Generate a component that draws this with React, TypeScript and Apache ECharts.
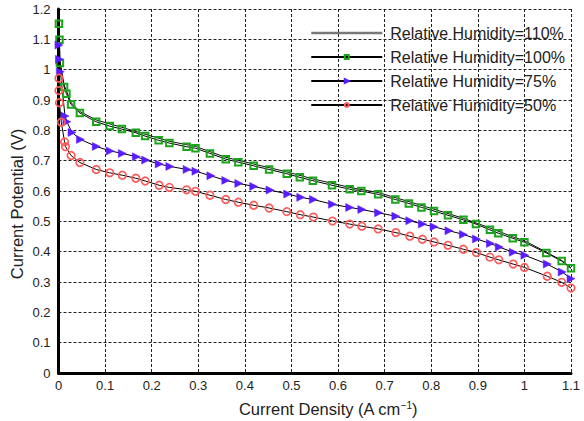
import React, { useEffect, useRef } from "react";
import * as echarts from "echarts";

const xTicks = { min: 0, max: 1.1, interval: 0.1 };
const yTicks = { min: 0, max: 1.2, interval: 0.1 };

const xTitle = "Current Density (A cm{sup|−1})";
const yTitle = "Current Potential (V)";

const legendNames = [
  "Relative Humidity=110%",
  "Relative Humidity=100%",
  "Relative Humidity=75%",
  "Relative Humidity=50%",
];

const rh110: number[][] = [
  [0.001, 1.16], [0.003, 1.03], [0.012, 0.95], [0.027, 0.891], [0.046, 0.862],
  [0.081, 0.834], [0.136, 0.81], [0.186, 0.787], [0.238, 0.764], [0.294, 0.747],
  [0.359, 0.711], [0.419, 0.689], [0.49, 0.663], [0.546, 0.64], [0.625, 0.612],
  [0.686, 0.595], [0.752, 0.565], [0.806, 0.54], [0.869, 0.51], [0.926, 0.478],
  [0.975, 0.449], [1.0, 0.436], [1.047, 0.399], [1.08, 0.371], [1.1, 0.347],
];

const rh100: number[][] = [
  [0.001, 1.151], [0.002, 1.099], [0.003, 1.022], [0.012, 0.943], [0.017, 0.921],
  [0.027, 0.885], [0.046, 0.857], [0.081, 0.828], [0.11, 0.814], [0.136, 0.804],
  [0.166, 0.792], [0.186, 0.781], [0.215, 0.767], [0.238, 0.758], [0.275, 0.746],
  [0.294, 0.741], [0.325, 0.724], [0.359, 0.705], [0.386, 0.695], [0.419, 0.683],
  [0.452, 0.671], [0.49, 0.657], [0.518, 0.645], [0.546, 0.634], [0.587, 0.619],
  [0.625, 0.606], [0.65, 0.6], [0.686, 0.589], [0.723, 0.572], [0.752, 0.559],
  [0.779, 0.546], [0.806, 0.534], [0.836, 0.52], [0.869, 0.505], [0.896, 0.491],
  [0.926, 0.472], [0.944, 0.461], [0.975, 0.444], [1.0, 0.431], [1.047, 0.396],
  [1.08, 0.369], [1.1, 0.345],
];

const rh75: number[][] = [
  [0.001, 1.081], [0.002, 1.034], [0.004, 0.993], [0.014, 0.847], [0.018, 0.828],
  [0.029, 0.793], [0.047, 0.77], [0.081, 0.747], [0.111, 0.732], [0.137, 0.724],
  [0.167, 0.713], [0.187, 0.702], [0.216, 0.689], [0.239, 0.681], [0.276, 0.671],
  [0.295, 0.665], [0.327, 0.65], [0.359, 0.635], [0.387, 0.625], [0.419, 0.615],
  [0.454, 0.603], [0.492, 0.59], [0.52, 0.579], [0.547, 0.572], [0.588, 0.556],
  [0.625, 0.546], [0.651, 0.539], [0.687, 0.528], [0.724, 0.517], [0.754, 0.502],
  [0.781, 0.491], [0.806, 0.482], [0.838, 0.469], [0.869, 0.457], [0.897, 0.442],
  [0.927, 0.427], [0.946, 0.415], [0.976, 0.398], [1.001, 0.388], [1.049, 0.359],
  [1.081, 0.333], [1.1, 0.311],
];

const rh50: number[][] = [
  [0.001, 0.972], [0.001, 0.931], [0.002, 0.891], [0.006, 0.827], [0.013, 0.762],
  [0.015, 0.746], [0.027, 0.717], [0.046, 0.694], [0.081, 0.671], [0.11, 0.66],
  [0.137, 0.652], [0.166, 0.642], [0.186, 0.633], [0.216, 0.619], [0.238, 0.612],
  [0.275, 0.604], [0.294, 0.599], [0.325, 0.586], [0.359, 0.572], [0.386, 0.563],
  [0.419, 0.553], [0.452, 0.544], [0.49, 0.532], [0.519, 0.522], [0.547, 0.514],
  [0.588, 0.501], [0.625, 0.491], [0.651, 0.484], [0.686, 0.475], [0.724, 0.463],
  [0.754, 0.451], [0.781, 0.441], [0.806, 0.432], [0.836, 0.421], [0.869, 0.408],
  [0.897, 0.397], [0.926, 0.382], [0.945, 0.373], [0.976, 0.359], [1.0, 0.348],
  [1.049, 0.319], [1.08, 0.299], [1.1, 0.28],
];

const FONT = "'Liberation Sans', Arial, Helvetica, sans-serif";

export default function App() {
  const ref = useRef<HTMLDivElement>(null);
  useEffect(() => {
    if (!ref.current) return;
    const chart = echarts.init(ref.current, null, { renderer: "svg" });
    const gridLine = { show: true, lineStyle: { color: "#222", type: [3, 2] as any, width: 1 } };
    chart.setOption({
      animation: false,
      backgroundColor: "#fff",
      textStyle: { fontFamily: FONT },
      grid: { left: 58.5, right: 13, top: 9, bottom: 48, containLabel: false },
      legend: {
        orient: "vertical",
        left: 305,
        top: 20,
        itemWidth: 71,
        itemHeight: 5,
        itemGap: 8,
        textStyle: { fontSize: 16, color: "#222", fontFamily: FONT, padding: [0, 0, 0, 3] },
        data: [
          { name: legendNames[0], lineStyle: { color: "#777", width: 2.5 }, itemStyle: { opacity: 0 } },
          { name: legendNames[1] },
          { name: legendNames[2] },
          { name: legendNames[3] },
        ],
      },
      graphic: [
        {
          type: "text",
          x: 328,
          y: 409,
          style: {
            text: xTitle,
            fontSize: 16.5,
            fontFamily: FONT,
            fill: "#222",
            align: "center",
            verticalAlign: "middle",
            rich: {
              sup: { fontSize: 10, verticalAlign: "top", lineHeight: 12, fill: "#222", fontFamily: FONT },
            },
          },
        },
        {
          type: "text",
          x: 17,
          y: 204,
          rotation: Math.PI / 2,
          style: {
            text: yTitle,
            fontSize: 16.5,
            fontFamily: FONT,
            fill: "#222",
            align: "center",
            verticalAlign: "middle",
          },
        },
      ],
      xAxis: {
        type: "value",
        ...xTicks,
        axisLine: { show: true, onZero: false, lineStyle: { color: "#000", width: 3 } },
        axisTick: { show: false },
        axisLabel: { fontSize: 13, color: "#222", margin: 6, fontFamily: FONT },
        splitLine: gridLine,
      },
      yAxis: {
        type: "value",
        ...yTicks,
        axisLine: { show: true, onZero: false, lineStyle: { color: "#000", width: 3 } },
        axisTick: { show: false },
        axisLabel: { fontSize: 13, color: "#222", margin: 8, fontFamily: FONT },
        splitLine: gridLine,
      },
      series: [
        {
          name: legendNames[0],
          type: "line",
          data: rh110,
          symbol: "none",
          lineStyle: { color: "#111", width: 1 },
          itemStyle: { color: "#111" },
        },
        {
          name: legendNames[1],
          type: "line",
          data: rh100,
          symbol: "rect",
          symbolSize: 6.5,
          lineStyle: { color: "#000", width: 1 },
          itemStyle: { color: "rgba(0,0,0,0)", borderColor: "#1aa51a", borderWidth: 2 },
        },
        {
          name: legendNames[2],
          type: "line",
          data: rh75,
          symbol: "triangle",
          symbolRotate: -90,
          symbolSize: 8,
          lineStyle: { color: "#000", width: 1 },
          itemStyle: { color: "#5a1cff", borderColor: "#5a1cff", borderWidth: 0.5 },
        },
        {
          name: legendNames[3],
          type: "line",
          data: rh50,
          symbol: "circle",
          symbolSize: 7.5,
          lineStyle: { color: "#000", width: 1 },
          itemStyle: { color: "rgba(0,0,0,0)", borderColor: "#ff5a5a", borderWidth: 1.7 },
        },
      ],
    });
    return () => chart.dispose();
  }, []);
  return <div ref={ref} style={{ width: 584, height: 421, position: "absolute", left: 0, top: 0 }} />;
}
